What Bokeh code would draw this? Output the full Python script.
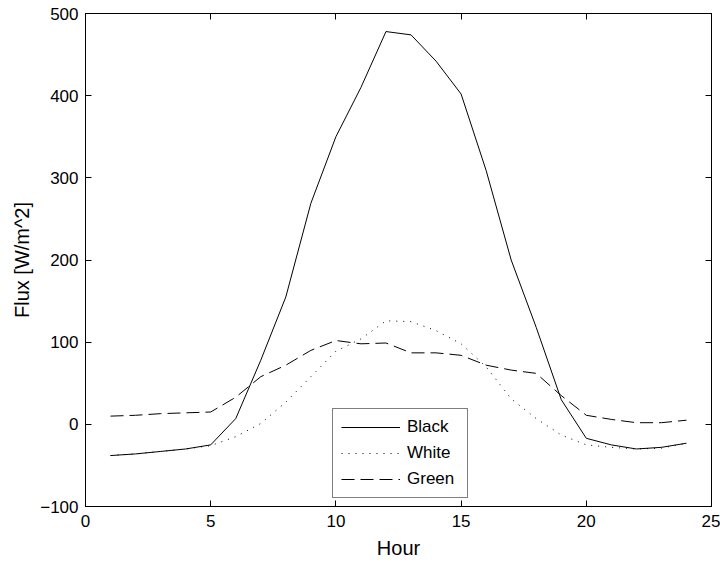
from bokeh.plotting import figure
from bokeh.models import Range1d, FixedTicker, LinearAxis, Legend, LegendItem, ColumnDataSource
from bokeh.embed import file_html
from bokeh.resources import INLINE

hours = list(range(1, 25))
black = [-38, -36, -33, -30, -25, 7, 78, 155, 269, 350, 410, 478, 474, 442, 402, 309, 200, 118, 30, -17, -25, -30, -28, -23]
white = [-38, -36, -33, -30, -26, -15, 1, 27, 58, 89, 104, 126, 125, 114, 98, 70, 31, 7, -13, -25, -28, -30, -29, -23]
green = [10, 11, 13, 14, 15, 33, 58, 72, 90, 102, 98, 99, 87, 87, 84, 72, 66, 62, 35, 11, 6, 2, 2, 5]
x_ticks = [0, 5, 10, 15, 20, 25]
y_ticks = [-100, 0, 100, 200, 300, 400, 500]

FONT = "Liberation Sans"

src = ColumnDataSource(dict(hour=hours, black=black, white=white, green=green))

p = figure(width=720, height=565, output_backend="svg", toolbar_location=None,
           x_range=Range1d(0, 25), y_range=Range1d(-100, 500),
           min_border_left=85, min_border_right=9, min_border_top=13, min_border_bottom=59,
           background_fill_color="white", border_fill_color="white")
p.xgrid.visible = False
p.ygrid.visible = False
p.outline_line_color = "black"
p.outline_line_width = 1
p.outline_line_alpha = 1

r1 = p.line("hour", "black", source=src, line_color="black", line_width=1)
r2 = p.line("hour", "white", source=src, line_color="black", line_width=1, line_dash="1 6")
r3 = p.line("hour", "green", source=src, line_color="black", line_width=1, line_dash="13 6")

for ax in (p.xaxis[0], p.yaxis[0]):
    ax.axis_line_color = "black"
    ax.major_tick_line_color = "black"
    ax.major_tick_in = 6
    ax.major_tick_out = 0
    ax.minor_tick_line_color = None
    ax.major_label_text_font = FONT
    ax.major_label_text_font_size = "17px"
    ax.major_label_text_color = "black"
    ax.axis_label_text_font = FONT
    ax.axis_label_text_font_size = "20px"
    ax.axis_label_text_font_style = "normal"
    ax.axis_label_text_color = "black"

p.xaxis[0].ticker = FixedTicker(ticks=x_ticks)
p.yaxis[0].ticker = FixedTicker(ticks=y_ticks)
p.xaxis[0].axis_label = "Hour"
p.yaxis[0].axis_label = "Flux [W/m^2]"
p.xaxis[0].major_label_standoff = 8
p.yaxis[0].major_label_standoff = 7
p.xaxis[0].axis_label_standoff = 7
p.yaxis[0].axis_label_standoff = 4

top = LinearAxis(ticker=FixedTicker(ticks=x_ticks), major_label_text_color=None,
                 major_label_text_font_size="1px",
                 major_tick_in=6, major_tick_out=0, minor_tick_line_color=None,
                 major_label_standoff=0, axis_line_color="black")
right = LinearAxis(ticker=FixedTicker(ticks=y_ticks), major_label_text_color=None,
                   major_label_text_font_size="1px",
                   major_tick_in=6, major_tick_out=0, minor_tick_line_color=None,
                   major_label_standoff=0, axis_line_color="black")
p.add_layout(top, "above")
p.add_layout(right, "right")

legend = Legend(items=[LegendItem(label="Black", renderers=[r1]),
                       LegendItem(label="White", renderers=[r2]),
                       LegendItem(label="Green", renderers=[r3])],
                location=(247, 8), padding=8, spacing=6, margin=0,
                glyph_width=59, glyph_height=20, label_height=20, label_width=52,
                label_standoff=7, label_text_font=FONT, label_text_font_size="17px",
                label_text_color="black",
                border_line_color="black", border_line_width=1,
                background_fill_color="white", background_fill_alpha=1)
p.add_layout(legend, "center")

open("out.html", "w").write(file_html(p, INLINE))
